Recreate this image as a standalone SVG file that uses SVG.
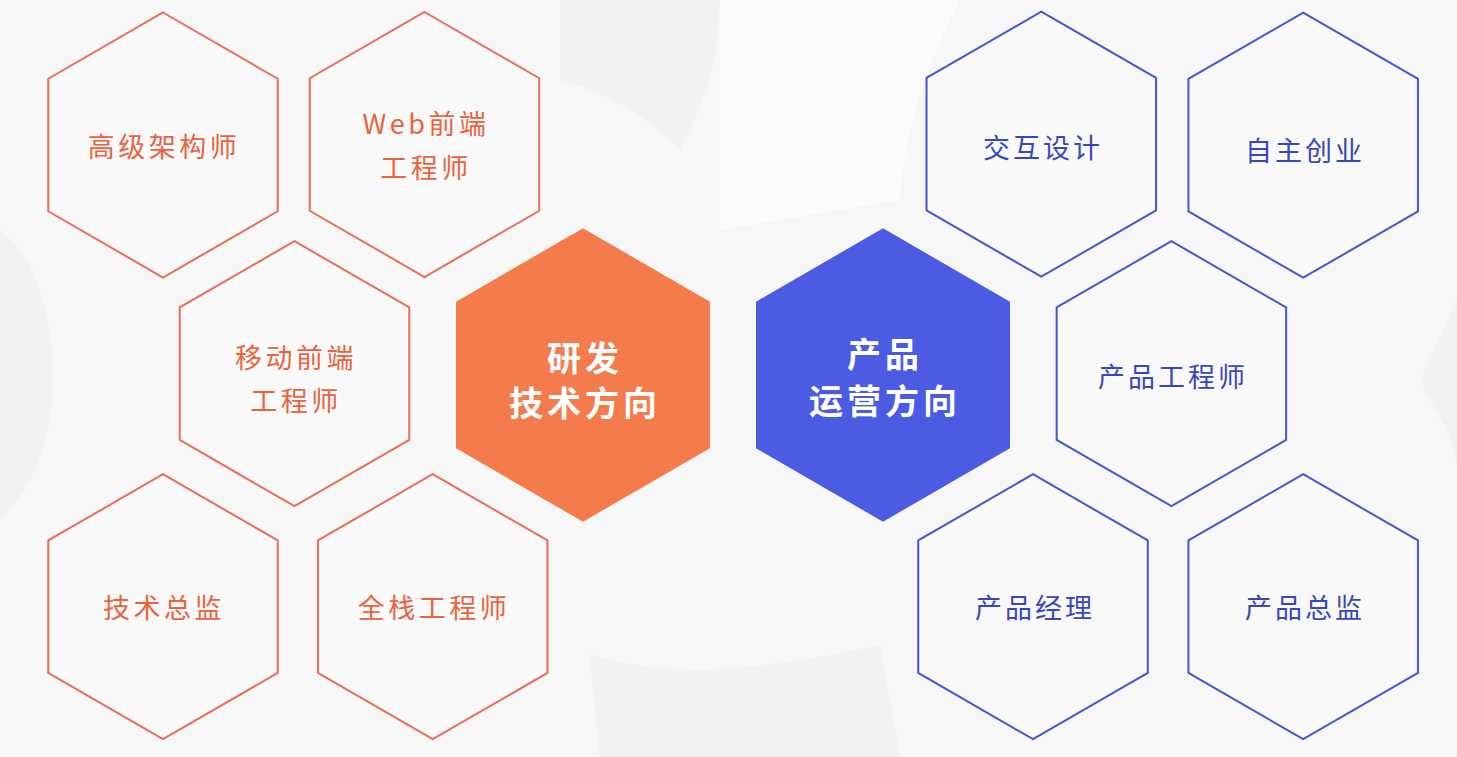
<svg xmlns="http://www.w3.org/2000/svg" xmlns:xlink="http://www.w3.org/1999/xlink" width="1457" height="757" viewBox="0 0 1457 757">
  <style>
    .bg { fill: #f7f7f7; }
    .shade { fill: #ebebeb; opacity: 0.45; }
    .lite { fill: #fcfcfc; opacity: 0.8; }
    .hexO { fill: #fafafa; fill-opacity: 0.6; stroke: #ea6e57; stroke-width: 2; }
    .hexB { fill: #fafafa; fill-opacity: 0.6; stroke: #4655d2; stroke-width: 2; }
    .fillO { fill: #f47b4b; }
    .fillB { fill: #4b5ce3; }
    .tO { font-family: "Noto Sans CJK SC", "Noto Sans", sans-serif; font-size: 27px; fill: #e9633f; text-anchor: middle; dominant-baseline: central; letter-spacing: 3.5px; }
    .tB { font-family: "Noto Sans CJK SC", "Noto Sans", sans-serif; font-size: 27px; fill: #3a47b8; text-anchor: middle; dominant-baseline: central; letter-spacing: 3px; }
    .tW { font-family: "Noto Sans CJK SC", "Noto Sans", sans-serif; font-size: 34px; font-weight: 700; fill: #ffffff; text-anchor: middle; dominant-baseline: central; letter-spacing: 4px; }
  </style>
  <defs>
    <polygon id="hexS" points="0,-132.5 114.75,-66.25 114.75,66.25 0,132.5 -114.75,66.25 -114.75,-66.25"/>
    <polygon id="hexL" points="0,-146.7 127,-73.35 127,73.35 0,146.7 -127,73.35 -127,-73.35"/>
  </defs>

  <!-- background -->
  <rect class="bg" x="0" y="0" width="1457" height="757"/>
  <path class="shade" d="M0,230 C40,260 60,330 50,420 C40,470 20,500 0,520 Z"/>
  <path class="shade" d="M560,0 L720,0 L715,60 C700,110 690,130 680,150 C640,110 600,90 560,80 Z"/>
  <path class="shade" d="M590,655 C680,680 760,670 880,645 L900,757 L600,757 Z"/>
  <path class="lite" d="M720,0 L960,0 C930,60 905,120 900,200 L720,230 Z"/>
  <path class="shade" d="M1420,380 C1440,420 1457,440 1457,470 L1457,300 Z"/>

  <!-- research / tech direction (orange) -->
  <g id="node-center-tech">
    <use xlink:href="#hexL" class="fillO" x="583" y="375"/>
    <text class="tW" x="585" y="356">研发</text>
    <text class="tW" x="585" y="401">技术方向</text>
  </g>
  <g id="node-architect">
    <use xlink:href="#hexS" class="hexO" x="163" y="145"/>
    <text class="tO" x="164" y="145">高级架构师</text>
  </g>
  <g id="node-web">
    <use xlink:href="#hexS" class="hexO" x="424.5" y="144.5"/>
    <text class="tO" x="426" y="122">Web前端</text>
    <text class="tO" x="426" y="166">工程师</text>
  </g>
  <g id="node-mobile">
    <use xlink:href="#hexS" class="hexO" x="294.5" y="373.7"/>
    <text class="tO" x="296" y="356">移动前端</text>
    <text class="tO" x="296" y="399">工程师</text>
  </g>
  <g id="node-cto">
    <use xlink:href="#hexS" class="hexO" x="163" y="606.7"/>
    <text class="tO" x="164" y="606.7">技术总监</text>
  </g>
  <g id="node-fullstack">
    <use xlink:href="#hexS" class="hexO" x="432.7" y="606.7"/>
    <text class="tO" x="434" y="606.7">全栈工程师</text>
  </g>

  <!-- product / operations direction (blue) -->
  <g id="node-center-product">
    <use xlink:href="#hexL" class="fillB" x="883" y="375"/>
    <text class="tW" x="885" y="352">产品</text>
    <text class="tW" x="885" y="399">运营方向</text>
  </g>
  <g id="node-interaction">
    <use xlink:href="#hexS" class="hexB" x="1041.3" y="144.2"/>
    <text class="tB" x="1043" y="146">交互设计</text>
  </g>
  <g id="node-startup">
    <use xlink:href="#hexS" class="hexB" x="1303.2" y="145.2"/>
    <text class="tB" x="1305" y="149">自主创业</text>
  </g>
  <g id="node-product-engineer">
    <use xlink:href="#hexS" class="hexB" x="1171.4" y="373.7"/>
    <text class="tB" x="1173" y="375">产品工程师</text>
  </g>
  <g id="node-pm">
    <use xlink:href="#hexS" class="hexB" x="1033" y="606.7"/>
    <text class="tB" x="1035" y="606.7">产品经理</text>
  </g>
  <g id="node-product-director">
    <use xlink:href="#hexS" class="hexB" x="1303.2" y="606.7"/>
    <text class="tB" x="1305" y="606.7">产品总监</text>
  </g>

  <g id="connectors"></g>
</svg>
